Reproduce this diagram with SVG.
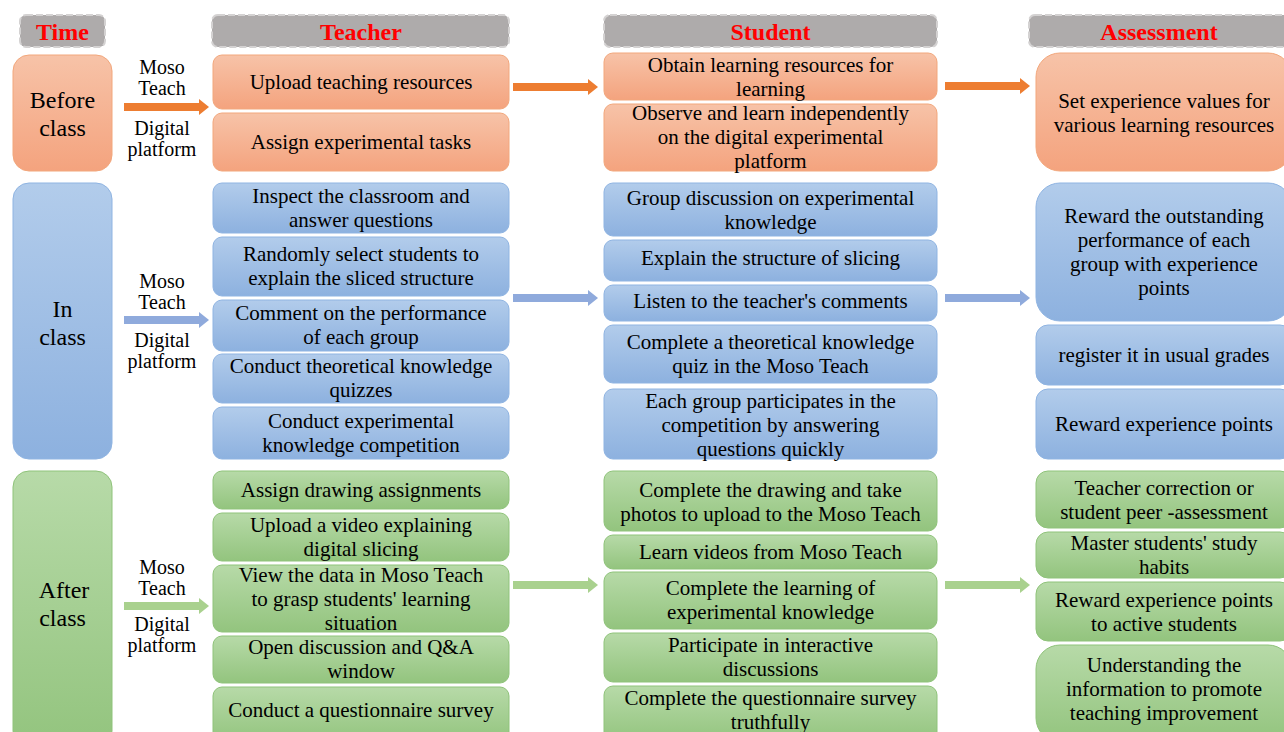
<svg xmlns="http://www.w3.org/2000/svg" width="1284" height="732" viewBox="0 0 1284 732" font-family="'Liberation Serif', 'Times New Roman', serif">
  <defs>
    <linearGradient id="gOrange" x1="0" y1="0" x2="0" y2="1">
      <stop offset="0" stop-color="#f7c3a8"/>
      <stop offset="1" stop-color="#f4a37e"/>
    </linearGradient>
    <linearGradient id="gBlue" x1="0" y1="0" x2="0" y2="1">
      <stop offset="0" stop-color="#b2cceb"/>
      <stop offset="1" stop-color="#8db1df"/>
    </linearGradient>
    <linearGradient id="gGreen" x1="0" y1="0" x2="0" y2="1">
      <stop offset="0" stop-color="#b7daa8"/>
      <stop offset="1" stop-color="#93c47e"/>
    </linearGradient>
  </defs>
  <style>
    text { font-family: "Liberation Serif", "Times New Roman", serif; fill: #000; text-anchor: middle; }
    .hdr rect { fill: #aeabab; stroke: #d4d2d2; stroke-width: 2; stroke-dasharray: 7 3; }
    .hdr text { fill: #ff0000; font-weight: bold; font-size: 24px; }
    .t { font-size: 21px; }
    .p { font-size: 20px; }
    .big { font-size: 24px; }
    .o { fill: url(#gOrange); stroke: #f2a77c; stroke-width: 1; }
    .b { fill: url(#gBlue); stroke: #8fb4e2; stroke-width: 1; }
    .g { fill: url(#gGreen); stroke: #8fc37a; stroke-width: 1; }
    .ao { fill: #ed7d31; }
    .ab { fill: #8faadc; }
    .ag { fill: #a9d18e; }
  </style>
  <rect width="1284" height="732" fill="#ffffff"/>

  <!-- Column headers -->
  <g id="header-time" class="hdr"><rect x="20" y="15" width="85" height="32" rx="6"/><text x="62.5" y="40">Time</text></g>
  <g id="header-teacher" class="hdr"><rect x="212" y="15" width="297" height="32" rx="6"/><text x="361" y="40">Teacher</text></g>
  <g id="header-student" class="hdr"><rect x="604" y="15" width="333" height="32" rx="6"/><text x="770.5" y="40">Student</text></g>
  <g id="header-assessment" class="hdr"><rect x="1029" y="15" width="262" height="32" rx="6"/><text x="1159" y="40">Assessment</text></g>

  <!-- Before class -->
  <g id="time-before">
    <rect class="o" x="13" y="55" width="99" height="116" rx="16"/>
    <text class="big" x="62.5" y="108">Before</text>
    <text class="big" x="62.5" y="136">class</text>
  </g>
  <g id="platform-before" class="p">
    <text x="162" y="74">Moso</text><text x="162" y="95">Teach</text>
    <text x="162" y="135">Digital</text><text x="162" y="156">platform</text>
  </g>
  <g id="teacher-before-1"><rect class="o" x="213" y="55" width="296" height="54" rx="9"/><text class="t" x="361" y="89">Upload teaching resources</text></g>
  <g id="teacher-before-2"><rect class="o" x="213" y="113" width="296" height="58" rx="9"/><text class="t" x="361" y="149">Assign experimental tasks</text></g>
  <g id="student-before-1"><rect class="o" x="604" y="53" width="333" height="47" rx="9"/>
    <text class="t" x="770.5" y="72">Obtain learning resources for</text><text class="t" x="770.5" y="96">learning</text></g>
  <g id="student-before-2"><rect class="o" x="604" y="104" width="333" height="67" rx="9"/>
    <text class="t" x="770.5" y="120">Observe and learn independently</text><text class="t" x="770.5" y="144">on the digital experimental</text><text class="t" x="770.5" y="168">platform</text></g>
  <g id="assess-before-1"><rect class="o" x="1036" y="53" width="256" height="118" rx="24"/>
    <text class="t" x="1164" y="108">Set experience values for</text><text class="t" x="1164" y="132">various learning resources</text></g>

  <!-- In class -->
  <g id="time-in">
    <rect class="b" x="13" y="183" width="99" height="276" rx="16"/>
    <text class="big" x="62.5" y="317">In</text>
    <text class="big" x="62.5" y="345">class</text>
  </g>
  <g id="platform-in" class="p">
    <text x="162" y="288">Moso</text><text x="162" y="309">Teach</text>
    <text x="162" y="347">Digital</text><text x="162" y="368">platform</text>
  </g>
  <g id="teacher-in-1"><rect class="b" x="213" y="183" width="296" height="50" rx="9"/>
    <text class="t" x="361" y="203">Inspect the classroom and</text><text class="t" x="361" y="227">answer questions</text></g>
  <g id="teacher-in-2"><rect class="b" x="213" y="237" width="296" height="59" rx="9"/>
    <text class="t" x="361" y="261">Randomly select students to</text><text class="t" x="361" y="285">explain the sliced structure</text></g>
  <g id="teacher-in-3"><rect class="b" x="213" y="300" width="296" height="51" rx="9"/>
    <text class="t" x="361" y="320">Comment on the performance</text><text class="t" x="361" y="344">of each group</text></g>
  <g id="teacher-in-4"><rect class="b" x="213" y="354" width="296" height="49" rx="9"/>
    <text class="t" x="361" y="373">Conduct theoretical knowledge</text><text class="t" x="361" y="397">quizzes</text></g>
  <g id="teacher-in-5"><rect class="b" x="213" y="407" width="296" height="52" rx="9"/>
    <text class="t" x="361" y="428">Conduct experimental</text><text class="t" x="361" y="452">knowledge competition</text></g>
  <g id="student-in-1"><rect class="b" x="604" y="183" width="333" height="53" rx="9"/>
    <text class="t" x="770.5" y="205">Group discussion on experimental</text><text class="t" x="770.5" y="229">knowledge</text></g>
  <g id="student-in-2"><rect class="b" x="604" y="240" width="333" height="41" rx="9"/>
    <text class="t" x="770.5" y="265">Explain the structure of slicing</text></g>
  <g id="student-in-3"><rect class="b" x="604" y="285" width="333" height="36" rx="9"/>
    <text class="t" x="770.5" y="308">Listen to the teacher's comments</text></g>
  <g id="student-in-4"><rect class="b" x="604" y="325" width="333" height="58" rx="9"/>
    <text class="t" x="770.5" y="349">Complete a theoretical knowledge</text><text class="t" x="770.5" y="373">quiz in the Moso Teach</text></g>
  <g id="student-in-5"><rect class="b" x="604" y="389" width="333" height="70" rx="9"/>
    <text class="t" x="770.5" y="408">Each group participates in the</text><text class="t" x="770.5" y="432">competition by answering</text><text class="t" x="770.5" y="456">questions quickly</text></g>
  <g id="assess-in-1"><rect class="b" x="1036" y="183" width="256" height="138" rx="24"/>
    <text class="t" x="1164" y="223">Reward the outstanding</text><text class="t" x="1164" y="247">performance of each</text><text class="t" x="1164" y="271">group with experience</text><text class="t" x="1164" y="295">points</text></g>
  <g id="assess-in-2"><rect class="b" x="1036" y="325" width="256" height="60" rx="12"/>
    <text class="t" x="1164" y="362">register it in usual grades</text></g>
  <g id="assess-in-3"><rect class="b" x="1036" y="389" width="256" height="70" rx="12"/>
    <text class="t" x="1164" y="431">Reward experience points</text></g>

  <!-- After class -->
  <g id="time-after">
    <rect class="g" x="13" y="471" width="99" height="276" rx="16"/>
    <text class="big" x="64" y="598">After</text>
    <text class="big" x="62.5" y="626">class</text>
  </g>
  <g id="platform-after" class="p">
    <text x="162" y="574">Moso</text><text x="162" y="595">Teach</text>
    <text x="162" y="631">Digital</text><text x="162" y="652">platform</text>
  </g>
  <g id="teacher-after-1"><rect class="g" x="213" y="471" width="296" height="38" rx="9"/>
    <text class="t" x="361" y="497">Assign drawing assignments</text></g>
  <g id="teacher-after-2"><rect class="g" x="213" y="513" width="296" height="48" rx="9"/>
    <text class="t" x="361" y="532">Upload a video explaining</text><text class="t" x="361" y="556">digital slicing</text></g>
  <g id="teacher-after-3"><rect class="g" x="213" y="565" width="296" height="67" rx="9"/>
    <text class="t" x="361" y="582">View the data in Moso Teach</text><text class="t" x="361" y="606">to grasp students' learning</text><text class="t" x="361" y="630">situation</text></g>
  <g id="teacher-after-4"><rect class="g" x="213" y="636" width="296" height="47" rx="9"/>
    <text class="t" x="361" y="654">Open discussion and Q&amp;A</text><text class="t" x="361" y="678">window</text></g>
  <g id="teacher-after-5"><rect class="g" x="213" y="687" width="296" height="55" rx="9"/>
    <text class="t" x="361" y="717">Conduct a questionnaire survey</text></g>
  <g id="student-after-1"><rect class="g" x="604" y="471" width="333" height="60" rx="9"/>
    <text class="t" x="770.5" y="497">Complete the drawing and take</text><text class="t" x="770.5" y="521">photos to upload to the Moso Teach</text></g>
  <g id="student-after-2"><rect class="g" x="604" y="535" width="333" height="34" rx="9"/>
    <text class="t" x="770.5" y="559">Learn videos from Moso Teach</text></g>
  <g id="student-after-3"><rect class="g" x="604" y="572" width="333" height="57" rx="9"/>
    <text class="t" x="770.5" y="595">Complete the learning of</text><text class="t" x="770.5" y="619">experimental knowledge</text></g>
  <g id="student-after-4"><rect class="g" x="604" y="633" width="333" height="49" rx="9"/>
    <text class="t" x="770.5" y="652">Participate in interactive</text><text class="t" x="770.5" y="676">discussions</text></g>
  <g id="student-after-5"><rect class="g" x="604" y="686" width="333" height="56" rx="9"/>
    <text class="t" x="770.5" y="705">Complete the questionnaire survey</text><text class="t" x="770.5" y="729">truthfully</text></g>
  <g id="assess-after-1"><rect class="g" x="1036" y="471" width="256" height="57" rx="12"/>
    <text class="t" x="1164" y="495">Teacher correction or</text><text class="t" x="1164" y="519">student peer -assessment</text></g>
  <g id="assess-after-2"><rect class="g" x="1036" y="532" width="256" height="46" rx="12"/>
    <text class="t" x="1164" y="550">Master students' study</text><text class="t" x="1164" y="574">habits</text></g>
  <g id="assess-after-3"><rect class="g" x="1036" y="582" width="256" height="59" rx="12"/>
    <text class="t" x="1164" y="607">Reward experience points</text><text class="t" x="1164" y="631">to active students</text></g>
  <g id="assess-after-4"><rect class="g" x="1036" y="645" width="256" height="97" rx="24"/>
    <text class="t" x="1164" y="672">Understanding the</text><text class="t" x="1164" y="696">information to promote</text><text class="t" x="1164" y="720">teaching improvement</text></g>

  <!-- Connectors: block arrows between columns -->
  <g id="connectors">
    <path class="ao" d="M124,103 H199 V99 L209,107 L199,115 V111 H124 Z"/>
    <path class="ao" d="M513,83 H588 V79 L598,87 L588,95 V91 H513 Z"/>
    <path class="ao" d="M945,82 H1020 V78 L1030,86 L1020,94 V90 H945 Z"/>
    <path class="ab" d="M124,316 H199 V312 L209,320 L199,328 V324 H124 Z"/>
    <path class="ab" d="M513,294 H588 V290 L598,298 L588,306 V302 H513 Z"/>
    <path class="ab" d="M945,294 H1020 V290 L1030,298 L1020,306 V302 H945 Z"/>
    <path class="ag" d="M124,602 H199 V598 L209,606 L199,614 V610 H124 Z"/>
    <path class="ag" d="M513,581 H588 V577 L598,585 L588,593 V589 H513 Z"/>
    <path class="ag" d="M945,581 H1020 V577 L1030,585 L1020,593 V589 H945 Z"/>
  </g>
</svg>
